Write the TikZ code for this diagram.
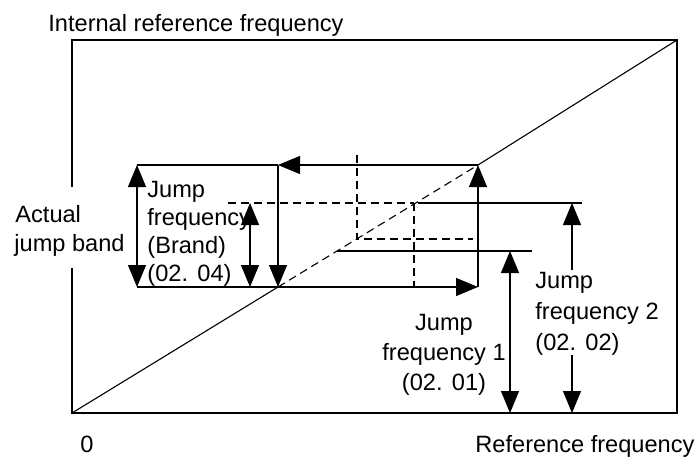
\documentclass[tikz,border=0pt]{standalone}
\usepackage{fontspec}
\setmainfont{Liberation Sans}
\usetikzlibrary{arrows.meta}
\begin{document}
\begin{tikzpicture}[x=0.5pt,y=-0.5pt,
 ln/.style={line width=0.55pt},
 dsh/.style={line width=0.55pt, dash pattern=on 4pt off 2.5pt},
 tip/.style={ln,-{Triangle[width=9pt,length=11pt]}},
 tips/.style={ln,{Triangle[width=9pt,length=11pt]}-{Triangle[width=9pt,length=11pt]}},
 lbl/.style={inner sep=0pt, font=\fontsize{11.8}{14}\selectfont}]
\useasboundingbox (0,0) rectangle (700,460);
% frame corners
\coordinate (O) at (72,413);
\coordinate (TL) at (72,40);
\coordinate (TR) at (677,40);
\coordinate (BR) at (677,413);
\coordinate (Lg1) at (72,187);
\coordinate (Lg2) at (72,268);
% key points
\coordinate (A) at (278,287);
\coordinate (B) at (478,165);
\coordinate (C) at (357,239);
\coordinate (D) at (414,203);
\coordinate (P1) at (137,165);
\coordinate (P2) at (137,287);
\coordinate (Q1) at (250,203);
\coordinate (Q2) at (250,287);
\coordinate (A1) at (278,165);
\coordinate (B1) at (478,287);
\coordinate (D0) at (228,203);
\coordinate (D1) at (418,203);
\coordinate (D2) at (582,203);
\coordinate (D3) at (414,287);
\coordinate (C0) at (357,155);
\coordinate (C1) at (473,239);
\coordinate (E0) at (337,251);
\coordinate (E1) at (532,251);
\coordinate (F1) at (510,251);
\coordinate (F2) at (510,413);
\coordinate (G1) at (572,203);
\coordinate (G2) at (572,270);
\coordinate (G3) at (572,355);
\coordinate (G4) at (572,413);

% frame
\draw[ln] (Lg1) -- (TL) -- (TR) -- (BR) -- (O) -- (Lg2);
% diagonal
\draw[ln] (O) -- (A);
\draw[dsh] (A) -- (B);
\draw[ln] (B) -- (TR);

% jump band rectangle
\draw[ln] (P1) -- (A1);
\draw[tip] (B) -- (A1);
\draw[tip] (A1) -- (A);
\draw[tip] (P2) -- (B1);
\draw[tip] (B1) -- (B);
\draw[tips] (P1) -- (P2);
\draw[tips] (Q1) -- (Q2);

% dashed helpers
\draw[dsh] (D0) -- (D);
\draw[dsh] (D) -- (D3);
\draw[dsh] (C0) -- (C) -- (C1);
\draw[ln] (D1) -- (D2);
\draw[ln] (E0) -- (E1);

% jump frequency 1 and 2
\draw[tips] (F1) -- (F2);
\draw[tip] (G2) -- (G1);
\draw[tip] (G3) -- (G4);

% texts
\node[lbl, anchor=base west] (t0) at (48,32) {Internal reference frequency};
\node[lbl, anchor=base west] (ta1) at (15,222) {Actual};
\node[lbl, anchor=base west] (ta2) at (14,251) {jump band};
\node[lbl, anchor=base west] (tb1) at (147,197) {Jump};
\node[lbl, anchor=base west] (tb2) at (147,225) {frequency};
\node[lbl, anchor=base west] (tb3) at (147,253) {(Brand)};
\node[lbl, anchor=base west] (tb4) at (147,281) {(02.\hspace{0.4em}04)};
\node[lbl, anchor=base] (tc1) at (444,330) {Jump};
\node[lbl, anchor=base] (tc2) at (444,360) {frequency 1};
\node[lbl, anchor=base] (tc3) at (444,390) {(02.\hspace{0.4em}01)};
\node[lbl, anchor=base west] (td1) at (535,288) {Jump};
\node[lbl, anchor=base west] (td2) at (535,319) {frequency 2};
\node[lbl, anchor=base west] (td3) at (535,350) {(02.\hspace{0.4em}02)};
\node[lbl, anchor=base west] (tz) at (80,452) {0};
\node[lbl, anchor=base west] (tr) at (475,452) {Reference frequency};
\end{tikzpicture}
\end{document}
